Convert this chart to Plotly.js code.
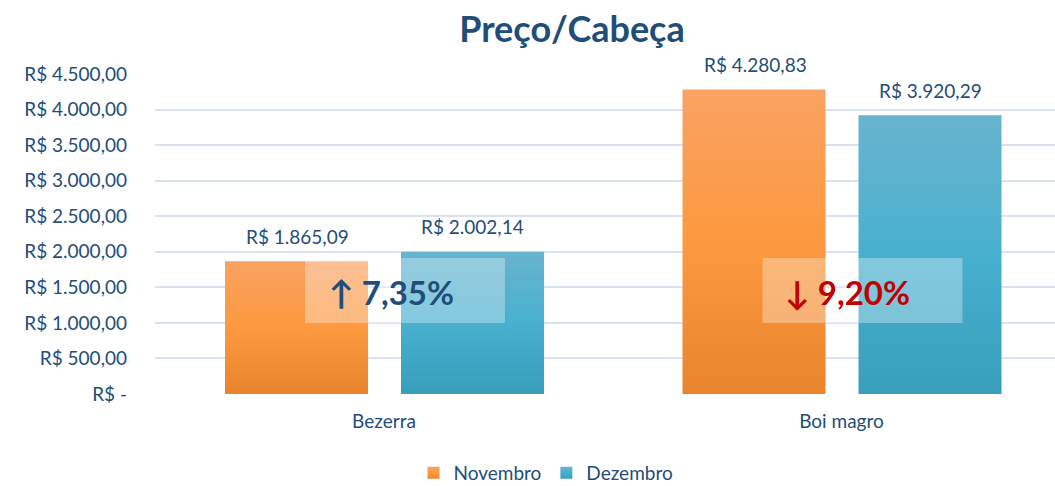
<!DOCTYPE html>
<html>
<head>
<meta charset="utf-8">
<script src="https://cdn.plot.ly/plotly-3.0.1.min.js"></script>
<style>
  html, body { margin: 0; padding: 0; background: #fff; }
  #chart { width: 1055px; height: 486px; }
</style>
</head>
<body>
<div id="chart"></div>
<script>
// ---- data ----
const categories = ["Bezerra", "Boi magro"];
const seriesNames = ["Novembro", "Dezembro"];
const novembro = [1865.09, 4280.83];
const dezembro = [2002.14, 3920.29];
const novembroLabels = ["R$ 1.865,09", "R$ 4.280,83"];
const dezembroLabels = ["R$ 2.002,14", "R$ 3.920,29"];
const changeLabels = ["↑ 7,35%", "↓ 9,20%"];
const tickVals = [0, 500, 1000, 1500, 2000, 2500, 3000, 3500, 4000, 4500];
const tickText = ["R$ -", "R$ 500,00", "R$ 1.000,00", "R$ 1.500,00", "R$ 2.000,00",
                  "R$ 2.500,00", "R$ 3.000,00", "R$ 3.500,00", "R$ 4.000,00", "R$ 4.500,00"];

// ---- style ----
const FONT = "Lato, 'Open Sans', sans-serif";
const BLUE = "#1F4E79";
const RED = "#C00000";
const changeColors = [BLUE, RED];
const gradients = [
  [["0%", "#F9A262"], ["50%", "#FD993F"], ["100%", "#E8842B"]],
  [["0%", "#68B4CE"], ["50%", "#48B0CF"], ["100%", "#379FBB"]]
];

const traces = [
  { type: "bar", name: seriesNames[0], x: categories, y: novembro,
    width: 0.3126, offset: -0.3475,
    marker: { color: "#FB963F", line: { width: 0 } }, hoverinfo: "skip" },
  { type: "bar", name: seriesNames[1], x: categories, y: dezembro,
    width: 0.3126, offset: 0.0372,
    marker: { color: "#4AB1CF", line: { width: 0 } }, hoverinfo: "skip" }
];

const annotations = [];
const shapes = [];
categories.forEach((c, i) => {
  // value labels
  annotations.push({ x: c, y: novembro[i], xref: "x", yref: "y", text: novembroLabels[i],
    showarrow: false, xshift: -86, yshift: 25, yanchor: "middle",
    font: { family: FONT, size: 19, color: BLUE } });
  annotations.push({ x: c, y: dezembro[i], xref: "x", yref: "y", text: dezembroLabels[i],
    showarrow: false, xshift: 89, yshift: 25, yanchor: "middle",
    font: { family: FONT, size: 19, color: BLUE } });
  // translucent box
  shapes.push({ type: "rect", layer: "above", xref: "x", yref: "y",
    xsizemode: "pixel", xanchor: i, x0: -79, x1: 121,
    y0: 1000, y1: 1912, fillcolor: "rgba(255,255,255,0.32)", line: { width: 0 } });
  // change label
  annotations.push({ x: c, y: 1434, xref: "x", yref: "y", text: "<b>" + changeLabels[i] + "</b>",
    showarrow: false, xshift: i === 0 ? 8 : 6, yanchor: "middle",
    font: { family: FONT, size: 33, color: changeColors[i] } });
});

const layout = {
  width: 1055, height: 486,
  paper_bgcolor: "#ffffff", plot_bgcolor: "#ffffff",
  margin: { l: 155, r: 0, t: 74, b: 92, pad: 0, autoexpand: false },
  title: { text: "<b>Preço/Cabeça</b>", x: 572 / 1055, xanchor: "center", xref: "container",
    y: 1 - 29 / 486, yanchor: "middle", yref: "container",
    font: { family: FONT, size: 36, color: BLUE } },
  font: { family: FONT, color: BLUE },
  showlegend: true,
  legend: { orientation: "h", x: 546 / 1055, xanchor: "center", xref: "container",
    y: 1 - 473 / 486, yanchor: "middle", yref: "container",
    font: { family: FONT, size: 19, color: BLUE }, itemwidth: 30, traceorder: "normal" },
  xaxis: { type: "category", range: [-0.5005, 1.4667], showgrid: false, zeroline: false,
    showline: false, ticks: "", tickfont: { family: FONT, size: 19, color: BLUE },
    ticklabelstandoff: 14, fixedrange: true },
  yaxis: { range: [0, 4500], tickvals: tickVals, ticktext: tickText,
    showgrid: true, gridcolor: "#D9E2F2", gridwidth: 2, zeroline: false, showline: false,
    ticks: "", tickfont: { family: FONT, size: 19, color: BLUE },
    ticklabelstandoff: 27, fixedrange: true },
  annotations: annotations,
  shapes: shapes,
  bargap: 0.2, bargroupgap: 0.1
};

Plotly.newPlot("chart", traces, layout, { staticPlot: true, displayModeBar: false }).then(gd => {
  const svg = gd.querySelector(".main-svg");
  let defs = svg.querySelector("defs");
  if (!defs) { defs = document.createElementNS("http://www.w3.org/2000/svg", "defs"); svg.prepend(defs); }
  gradients.forEach((stops, k) => {
    const lg = document.createElementNS("http://www.w3.org/2000/svg", "linearGradient");
    lg.setAttribute("id", "barGrad" + k);
    lg.setAttribute("x1", "0"); lg.setAttribute("y1", "0");
    lg.setAttribute("x2", "0"); lg.setAttribute("y2", "1");
    stops.forEach(s => {
      const st = document.createElementNS("http://www.w3.org/2000/svg", "stop");
      st.setAttribute("offset", s[0]); st.setAttribute("stop-color", s[1]);
      lg.appendChild(st);
    });
    defs.appendChild(lg);
  });
  gd.querySelectorAll(".barlayer .trace").forEach((t, k) => {
    t.querySelectorAll("path").forEach(p => { p.style.fill = "url(#barGrad" + k + ")"; });
  });
  gd.querySelectorAll(".legend .traces").forEach((t, k) => {
    t.querySelectorAll(".legendpoints path").forEach(p => { p.style.fill = "url(#barGrad" + k + ")"; });
  });
});
</script>
</body>
</html>
